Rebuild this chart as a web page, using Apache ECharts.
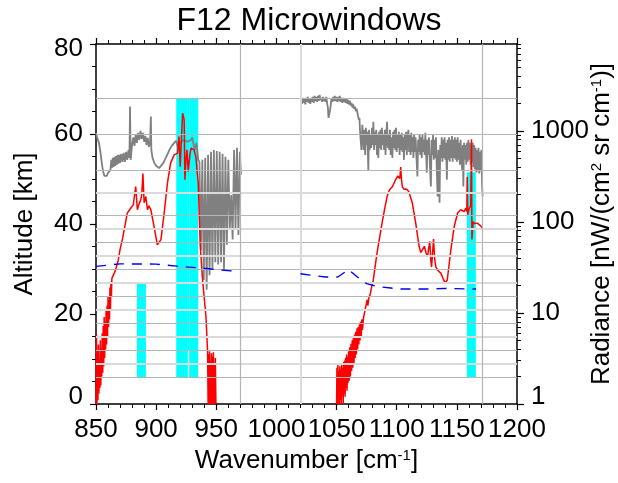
<!DOCTYPE html>
<html><head><meta charset="utf-8">
<script src="https://cdn.jsdelivr.net/npm/echarts@6/dist/echarts.min.js"></script>
<style>html,body{margin:0;padding:0;background:#fff}#c{width:618px;height:483px}</style>
</head><body><div id="c"></div>
<script>
const FONT = 'Liberation Sans, Arial, sans-serif';

// Gray spectrum (wavenumber, radiance) – two ranges
const grayA = [
[850,951],[851,840],[852.5,739],[854,545],[855,424],[856,355],[857,320],[858,305],[859,320],[860,346],[861,355],
[862,373],[862.7,481],[863.4,393],[864,505],[864.7,403],[865.4,519],[866,413],[866.7,530],[867.4,424],[868,545],[868.7,435],[869.4,545],[870,445],[871,560],[872,457],[873,573],[874,457],[875,588],[876,481],[877,618],[877.8,505],[878.3,1848],[878.8,481],[879.4,481],
[880,701],[881,850],[882,685],[883,910],[884,739],[885,951],[886,797],[887,1000],[888,818],[889,951],[890,760],[891,880],[892,700],[893,840],[894,665],[895,778],[895.6,1436],[896,618],[897,505],[898.5,445],[900,413],[902.5,390],[904,403],[906,445],[908,505],[910,573],[911,618],[913,685],[915,739],[916.5,778],[918,673],[920,739],[923,797],[926,760],[929,797],[930,850],[931,720],[932,618],[933.5,739],[935,481],
[936,457],[937.2,49],[938.4,481],[939.6,23],[940.8,505],[942,18],[943.2,545],[944.4,26],[945.6,588],[946.8,31],[948,618],[949.2,36],[950.4,600],[951.6,34],[952.8,588],[954,36],[955.2,560],[956.4,30],[957.6,519],[958.8,56],[960,481],[961.2,82],[962.4,197],[963.6,64],[964.8,618],[966,82],[967.2,651],[968.4,72],[969.6,588],[970.5,329]
];
const grayB = [
[1020.5,2188],[1021.2,1978],[1021.9,2302],[1022.6,2030],[1023.3,2246],[1024,1950],[1024.7,2302],[1025.4,2080],[1026.1,2360],[1026.8,2028],[1027.5,2246],[1028.2,1978],[1028.9,2302],[1029.6,2080],[1030.3,2360],[1031,2028],[1031.7,2420],[1032.4,2130],[1033.1,2360],[1033.8,2080],[1034.5,2420],[1035.2,2130],[1035.9,2480],[1036.6,2188],[1037.3,2302],[1038,2080],[1038.7,2360],[1039.4,2130],[1040.1,2302],[1040.8,2080],[1041.5,2360],[1042.2,1978],[1042.8,1800],[1043.3,1390],[1043.8,1500],[1044.3,1600],[1045,1848],[1045.7,2246],[1046.4,2080],[1047.1,2360],[1047.8,2130],[1048.5,2420],[1049.2,2130],[1049.9,2360],[1050.6,2080],[1051.3,2360],[1052,2130],[1052.7,2420],[1053.4,2080],[1054.1,2302],[1054.8,2030],[1055.5,2302],[1056.2,2080],[1056.9,2246],[1057.6,2028],[1058.3,2246],[1059,1978],[1059.7,2188],[1060.4,1950],[1061.1,2130],[1061.8,1900],[1062.5,2030],[1063.2,1800],[1063.9,1950],[1064.6,1750],[1065.3,1848],[1066,1650],[1066.7,1750],[1067.4,1560],[1068,1618],[1068.5,1321],[1069,1390],[1069.5,1000],[1070,797],[1070.7,618],[1071.4,1164],
[1072,904],[1072.6,618],[1073.2,1026],[1073.8,545],[1074.4,1080],[1075,700],[1075.6,975],[1076.4,373],[1077,1026],[1077.6,618],[1078.2,904],[1078.8,651],[1079.4,1080],[1080,700],[1080.6,1256],[1081.2,618],[1081.8,975],[1082.4,700],[1083,1026],[1083.6,545],[1084.2,904],[1084.7,505],[1085.3,975],[1085.9,651],[1086.5,1026],[1087.1,618],[1087.7,1080],[1088.3,700],[1088.9,904],[1089.5,618],[1090.1,1026],[1090.7,545],[1091.4,975],[1092,1256],[1092.6,651],[1093.2,904],[1093.8,618],[1094.4,1026],[1095,545],[1095.6,850],[1096.4,505],[1097,975],[1097.6,651],[1098.2,1026],[1098.8,618],[1099.4,1080],[1100,588],[1100.6,904],[1101.2,651],[1101.8,975],[1102.4,545],[1103,904],[1103.6,618],[1104.2,951],[1104.8,588],[1105.4,850],[1106,480],[1106.6,904],[1107.2,618],[1107.8,975],[1108.4,545],[1109,850],[1109.7,1026],[1110.3,588],[1110.9,904],[1111.5,545],[1112.1,951],[1112.7,588],[1113.3,850],[1113.9,505],[1114.5,904],[1115.1,588],[1115.7,850],[1116.3,545],[1117.2,315],[1117.8,797],[1118.4,588],[1119,904],[1119.6,545],[1120.2,850],[1120.8,505],[1121.4,904],[1122,588],[1122.6,797],[1123.2,545],[1123.8,951],[1124.4,588],[1125,346],[1125.6,797],[1126.2,545],[1126.8,850],[1127.4,481],[1128.4,245],[1129,797],[1129.6,545],[1130.2,904],[1130.8,481],[1131.4,797],[1132,505],[1132.6,850],[1133.2,424],[1134,190],[1134.6,618],[1135.2,373],[1135.6,162],[1136.2,700],[1136.8,505],[1137.4,850],[1138,457],[1138.6,797],[1139.2,505],[1139.8,850],[1140.4,481],[1141,739],[1141.7,290],[1142.3,797],[1142.9,481],[1143.5,850],[1144.1,457],[1144.7,797],[1145.3,505],[1145.9,880],[1146.5,457],[1147.1,797],[1147.7,505],[1148.3,850],[1148.9,481],[1149.5,797],[1150.1,457],[1150.7,850],[1151.3,481],[1151.9,739],[1152.5,424],[1153.1,797],[1153.7,505],[1154.4,373],[1155,700],[1155.4,245],[1156,739],[1156.6,481],[1157.2,700],[1157.8,424],[1158.4,739],[1159,457],[1159.6,797],[1160.2,481],[1160.8,739],[1161.4,424],[1162,700],[1162.6,457],[1163.2,739],[1163.8,400],[1164.4,700],[1165,380],[1165.6,651],[1166.2,350],[1166.8,618],[1167.4,360],[1168,651],[1168.6,340],[1169.2,588],[1169.8,360],[1170.4,618],[1171,245],[1171.4,190]
];

// Red spectrum (wavenumber, radiance)
const redA = [
[850,1],[850.4,5.8],[850.8,1],[851.2,3.9],[851.6,1.1],[852,4.5],[852.4,1.3],[852.8,3.1],[853.2,1.5],[853.6,5.0],[854,1.6],[854.4,4.0],[854.8,2.0],[855.2,6.0],[855.6,2.2],[856,7.2],[856.4,2.6],[856.8,9.0],[857.2,3.2],[857.6,8.0],[858,4.0],[858.4,11],[858.8,4.5],[859.2,12],[859.6,5.5],[860,15],[860.4,7],[860.8,14],[861.2,8.5],[861.6,19],[862,11],[862.4,22],[862.8,15],[863.2,24],[863.6,23],
[866,29],[868.5,38],[870,50],[872,65],[874,90],[876,125],[879,142],[881,154],[883,245],[884.4,136],[885.5,154],[887.2,175],[888,198],[889,340],[890,162],[891.4,190],[892.8,136],[894,150],[895.6,136],[898.3,89],[901,56],[904,64],[906.7,126],[909.4,267],[912,442],[915,545],[917.8,569],[919,866],[920,405],[921,797],[922,1564],[922.8,1630],[923.3,1321],[923.9,290],[924.8,481],[925.6,618],[926.7,357],[928,545],[929,646],[930.3,673],[931.5,618],[933,522],[935,267],[936.7,54],[938.6,23],[941.4,9.2],[942.8,3.7],
[943.2,1],[943.6,3.5],[944,1],[944.4,3.8],[944.8,1],[945.2,3.0],[945.6,1],[946,3.6],[946.4,1],[946.8,3.3],[947.2,1],[947.6,3.7],[948,1],[948.4,2.8],[948.8,1],[949.2,3.2],[949.7,1]
];
const redB = [
[1050,1],[1050.3,2.5],[1050.7,1],[1051.1,2.7],[1051.5,1],[1051.9,2.3],[1052.3,1],[1052.7,2.6],[1053.1,1.1],[1053.5,2.4],[1053.9,1],[1054.3,2.8],[1054.7,1.2],[1055.1,2.5],[1055.5,1],[1055.9,2.9],[1056.3,1.3],[1056.7,3.0],[1057.1,1.2],[1057.5,3.2],[1057.9,1.5],[1058.3,3.5],[1058.7,1.4],[1059.1,3.3],[1059.5,1.7],[1060,3.8],
[1060.5,1.8],[1061,4.2],[1061.5,2.0],[1062,4.6],[1062.5,2.3],[1063,5.0],[1063.5,2.5],[1064,5.4],[1064.5,2.8],[1065,5.8],[1065.5,3.2],[1066,6.2],[1066.5,3.5],[1067,6.8],[1067.5,4.0],[1068,7.0],[1068.5,4.5],[1069,7.5],[1069.5,5.0],[1070,8.0],[1070.5,5.5],[1071,8.5],[1071.5,6.5],[1072.5,9.0],[1073.5,10.5],[1074.5,10],[1075.5,14],[1076,12],[1077,15],[1078,16],[1079,19],[1079.7,20.4],[1080.5,23],
[1082,32],[1084,49],[1086,70],[1088,100],[1090,140],[1092,190],[1094,225],[1096.4,243],[1099,290],[1100.5,280],[1101,320],[1102,329],[1102.6,300],[1103.3,400],[1104,290],[1104.7,243],[1106,229],[1108,230],[1110,216],[1113,161],[1115.8,97],[1118.6,54],[1120,46],[1121.4,44],[1123,54],[1124.5,45],[1125.6,42],[1127.5,61],[1128.3,38],[1129,32],[1130.6,65],[1131.5,40],[1132.5,32],[1134.5,29],[1136.7,27.4],[1138.5,24],[1140.3,21.3],[1142,23],[1145,49],[1147.8,89],[1150.6,125],[1153.3,136],[1156,130],[1157.5,142],[1158.3,130],[1158.6,313],[1159,120],[1160.3,142],[1161.5,150],[1162.2,811],[1162.5,64],[1163.6,101],[1164.5,96],[1165.8,93],[1167,97],[1168.6,95],[1170,90],[1171.4,85]
];

// Blue dashed line (wavenumber, radiance)
const blueA = [[850,32.5],[870,34.6],[900,34.4],[917,32.7],[939,31],[962,29],[965,28.5]];
const blueB = [[1020,27],[1028,26],[1041,24.8],[1051,24.8],[1060,30],[1067,25],[1075,21],[1084,19.5],[1095,18.8],[1103,18.3],[1125,18.3],[1140,18.6],[1166,18.3]];

// Microwindows: wavenumber range and altitude range
const mwStart  = [884, 916.7, 926.4, 927.5, 1158.3];
const mwEnd    = [891.5, 926.4, 927.5, 935, 1165.8];
const mwBottom = [6, 6, 12, 6, 6];
const mwTop    = [27, 68, 68, 68, 51.5];

// Reference grid lines
const gridAltDark  = [6, 12, 18, 24, 30, 36, 42, 52, 60, 68];
const gridAltLight = [9, 15, 21, 27, 33, 39, 47];
const gridWnDark   = [970, 1171];
const gridWnLight  = [1020];

// Axis ticks
const radLabels = [1, 10, 100, 1000];
const radTicks = [];
[1, 10, 100, 1000].forEach(d => { for (let k = 1; k <= 9; k++) radTicks.push(d * k); });

const gap = (a, b) => a.concat([[995, null]], b);

const darkLine = {color: '#b4b4b4', width: 1.2, type: 'solid'};
const lightLine = {color: '#dadada', width: 2, type: 'solid'};
const gridLines = []
  .concat(gridAltDark.map(v => ({yAxis: v, lineStyle: darkLine})))
  .concat(gridAltLight.map(v => ({yAxis: v, lineStyle: lightLine})))
  .concat(gridWnDark.map(v => ({xAxis: v, lineStyle: darkLine})))
  .concat(gridWnLight.map(v => ({xAxis: v, lineStyle: lightLine})));

const areas = mwStart.map((s, i) => [
  {xAxis: s, yAxis: mwBottom[i]},
  {xAxis: mwEnd[i], yAxis: mwTop[i]}
]);

const FS = 26;
const lab = {fontFamily: FONT, fontSize: FS, color: '#000'};
const axisLineStyle = {show: true, lineStyle: {color: '#000', width: 1.5}};
const richName = {a: {fontFamily: FONT, fontSize: FS, color: '#000'},
                  s: {fontFamily: FONT, fontSize: 15, color: '#000', verticalAlign: 'top'}};

const chart = echarts.init(document.getElementById('c'), null, {renderer: 'canvas'});
chart.setOption({
  animation: false,
  backgroundColor: '#fff',
  title: {
    text: 'F12 Microwindows', left: 'center', top: 0,
    textStyle: {fontFamily: FONT, fontSize: 32, fontWeight: 'normal', color: '#000'}
  },
  grid: {left: 96, right: 101, top: 44, bottom: 79, containLabel: false, outerBoundsMode: 'none'},
  xAxis: [{
    type: 'value', position: 'bottom', min: 850, max: 1200, interval: 50,
    axisLine: axisLineStyle,
    axisTick: {show: true, inside: false, length: 6, lineStyle: {color: '#000', width: 1.2}},
    minorTick: {show: true, splitNumber: 5, length: 4, lineStyle: {color: '#000', width: 1}},
    splitLine: {show: false},
    axisLabel: Object.assign({margin: 13, hideOverlap: false, formatter: v => String(v)}, lab),
    name: '{a|Wavenumber [cm}{s|-1}{a|]}',
    nameLocation: 'middle', nameGap: 44, nameMoveOverlap: false,
    nameTextStyle: {fontFamily: FONT, fontSize: FS, color: '#000', rich: richName}
  }, {
    type: 'value', position: 'top', min: 850, max: 1200, interval: 50,
    axisLine: axisLineStyle,
    axisTick: {show: true, inside: false, length: 6, lineStyle: {color: '#000', width: 1.2}},
    minorTick: {show: true, splitNumber: 5, length: 4, lineStyle: {color: '#000', width: 1}},
    splitLine: {show: false},
    axisLabel: {show: false}
  }],
  yAxis: [{
    type: 'value', position: 'left', min: 0, max: 80, interval: 20,
    axisLine: axisLineStyle,
    axisTick: {show: true, inside: false, length: 6, lineStyle: {color: '#000', width: 1.2}},
    minorTick: {show: true, splitNumber: 4, length: 4, lineStyle: {color: '#000', width: 1}},
    splitLine: {show: false},
    axisLabel: Object.assign({margin: 13,
      formatter: v => v === 0 ? '{lo|0}' : (v === 80 ? '{hi|80}' : String(v)),
      rich: {lo: Object.assign({padding: [0, 0, 14, 0]}, lab), hi: Object.assign({padding: [10, 0, 0, 0]}, lab)}
    }, lab),
    name: 'Altitude [km]', nameLocation: 'middle', nameGap: 58, nameRotate: 90, nameMoveOverlap: false,
    nameTextStyle: {fontFamily: FONT, fontSize: FS, color: '#000'}
  }, {
    type: 'log', logBase: 10, position: 'right', min: 1, max: 9000,
    axisLine: axisLineStyle,
    axisTick: {show: true, inside: false, length: 4, customValues: radTicks, lineStyle: {color: '#000', width: 1}},
    minorTick: {show: false},
    splitLine: {show: false},
    axisLabel: Object.assign({margin: 14, customValues: radLabels,
      formatter: v => v === 1 ? '{lo|1}' : String(v),
      rich: {lo: Object.assign({padding: [0, 0, 14, 0]}, lab)}
    }, lab),
    name: '{a|Radiance [nW/(cm}{s|2}{a| sr cm}{s|-1}{a|)]}',
    nameLocation: 'middle', nameGap: 72, nameRotate: 90, nameMoveOverlap: false,
    nameTextStyle: {fontFamily: FONT, fontSize: FS, color: '#000', rich: richName}
  }, {
    type: 'log', logBase: 10, position: 'right', min: 1, max: 9000,
    axisLine: {show: false},
    axisTick: {show: true, inside: false, length: 7, customValues: radLabels, lineStyle: {color: '#000', width: 1.2}},
    splitLine: {show: false},
    axisLabel: {show: false}
  }],
  series: [{
    type: 'line', name: 'grid', xAxisIndex: 0, yAxisIndex: 0, data: [], z: 1,
    markLine: {silent: true, symbol: 'none', label: {show: false}, animation: false, data: gridLines}
  }, {
    type: 'line', name: 'windows', xAxisIndex: 0, yAxisIndex: 0, data: [], z: 2,
    markArea: {silent: true, animation: false, itemStyle: {color: '#00ffff', opacity: 1, borderWidth: 0}, data: areas}
  }, {
    type: 'line', name: 'gray', xAxisIndex: 0, yAxisIndex: 1, z: 3,
    data: gap(grayA, grayB), showSymbol: false, symbol: 'none', connectNulls: false,
    lineStyle: {color: '#808080', width: 1.8}
  }, {
    type: 'line', name: 'red', xAxisIndex: 0, yAxisIndex: 1, z: 4,
    data: gap(redA, redB), showSymbol: false, symbol: 'none', connectNulls: false,
    lineStyle: {color: '#ff0000', width: 1.5}
  }, {
    type: 'line', name: 'blue', xAxisIndex: 0, yAxisIndex: 1, z: 5,
    data: gap(blueA, blueB), showSymbol: false, symbol: 'none', connectNulls: false,
    lineStyle: {color: '#0000ee', width: 1.4, type: [10, 8]}
  }]
});
</script>
</body></html>
